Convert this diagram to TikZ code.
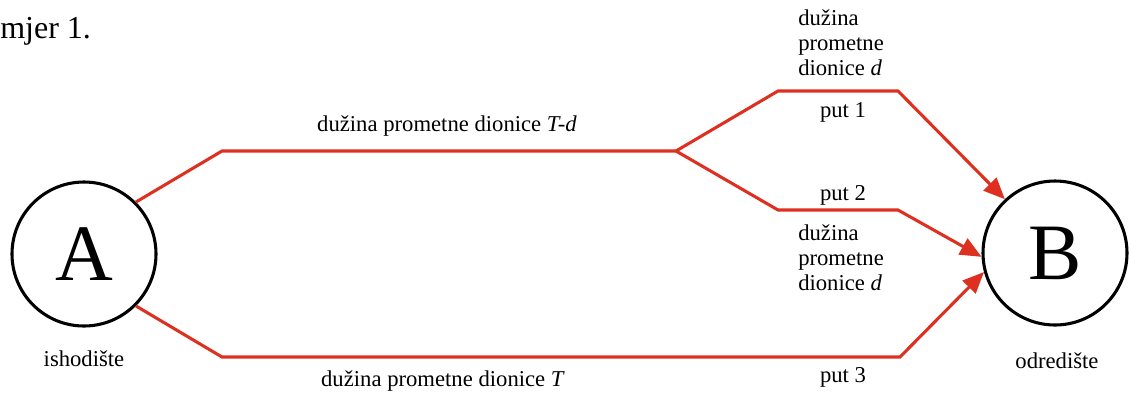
\documentclass[tikz,border=0pt]{standalone}
\usepackage{fontspec}
\setmainfont{Liberation Serif}
\usetikzlibrary{arrows.meta}
\definecolor{pathred}{RGB}{222,48,32}
\tikzset{
  x=0.75pt, y=-0.75pt,
  place/.style={circle, draw=black, line width=2.3pt, minimum size=108pt, inner sep=0pt, font=\fontsize{60}{60}\selectfont},
  road/.style={draw=pathred, line width=2.3pt, line join=miter},
  roadarrow/.style={road, -{Triangle[length=16pt,width=13.5pt]}},
  lbl/.style={inner sep=0pt, font=\fontsize{17}{18.75}\selectfont},
}
\begin{document}
\begin{tikzpicture}
\useasboundingbox (0,0) rectangle (1129,394);
\node[lbl, anchor=base west, font=\fontsize{24}{26}\selectfont] (title) at (0,38) {mjer 1.};

\node[place] (A) at (84,254) {A};
\node[place] (B) at (1055,253) {B};

\coordinate (a1) at (222,151);
\coordinate (fork) at (676,151);
\coordinate (p1a) at (778,91);
\coordinate (p1b) at (898,91);
\coordinate (p2a) at (778,210);
\coordinate (p2b) at (898,210);
\coordinate (p3a) at (222,357);
\coordinate (p3b) at (900,357);

\draw[road] (A.45) -- (a1) -- (fork);
\draw[roadarrow] (fork) -- (p1a) -- (p1b) -- (B.133);
\draw[roadarrow] (fork) -- (p2a) -- (p2b) -- (B.183);
\draw[roadarrow] (A.-45) -- (p3a) -- (p3b) -- (B.195);

\node[lbl, anchor=base] (lTd) at (447,131) {dužina prometne dionice \textit{T-d}};
\node[lbl, anchor=base] (lT) at (443,386) {dužina prometne dionice \textit{T}};
\node[lbl, anchor=base] (put1) at (843,117) {put 1};
\node[lbl, anchor=base] (put2) at (843,200) {put 2};
\node[lbl, anchor=base] (put3) at (843,382) {put 3};
\node[lbl, anchor=base west, align=left] (d1) at (798,75) {dužina\\prometne\\dionice \textit{d}};
\node[lbl, anchor=base west, align=left] (d2) at (798,290) {dužina\\prometne\\dionice \textit{d}};
\node[lbl, anchor=base] (ish) at (84,366) {ishodište};
\node[lbl, anchor=base] (odr) at (1057,368) {odredište};
\end{tikzpicture}
\end{document}
